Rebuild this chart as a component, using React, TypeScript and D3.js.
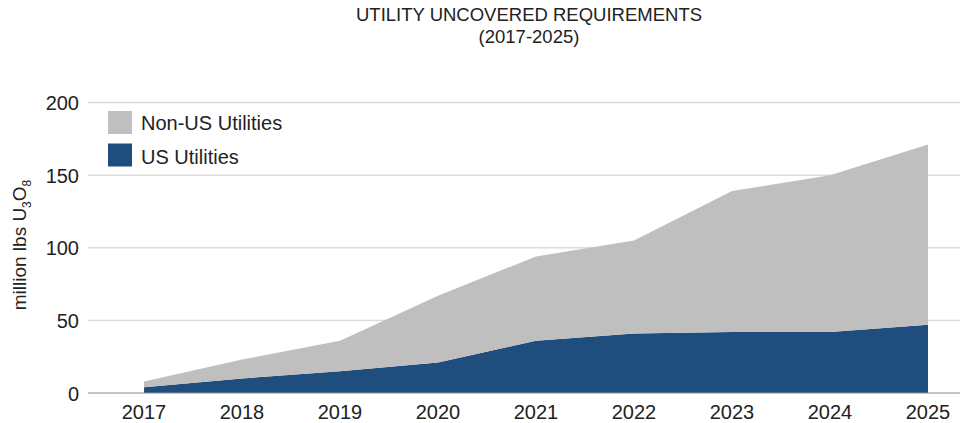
import React from "react";
import * as d3 from "d3";

const years = ["2017", "2018", "2019", "2020", "2021", "2022", "2023", "2024", "2025"];
const usUtilities = [4, 10, 15, 21, 36, 41, 42, 42, 47];
const nonUsUtilities = [4, 13, 21, 46, 58, 64, 97, 108, 124];
const yTicks = [0, 50, 100, 150, 200];

const W = 961, H = 423;
const left = 88, right = 960, top = 102.5, bottom = 393;

export default function App() {
  const x = d3.scalePoint<string>().domain(years).range([144, 928]);
  const y = d3.scaleLinear().domain([0, 200]).range([bottom, top]);
  const rows = years.map((yr, i) => ({ yr, us: usUtilities[i], non: nonUsUtilities[i] }));
  const stack = d3.stack<any>().keys(["us", "non"])(rows);
  const area = d3
    .area<any>()
    .x((d) => x(d.data.yr)!)
    .y0((d) => y(d[0]))
    .y1((d) => y(d[1]));
  const colors = ["#1f4e7e", "#bfbfbf"];
  const font = "'Liberation Sans', Arial, Helvetica, sans-serif";
  return (
    <svg width={W} height={H} style={{ position: "absolute", left: 0, top: 0, background: "#fff" }} fontFamily={font}>
      <text x={529} y={21} textAnchor="middle" fontSize={18.5} fill="#222">UTILITY UNCOVERED REQUIREMENTS</text>
      <text x={529} y={43} textAnchor="middle" fontSize={18.5} fill="#222">(2017-2025)</text>
      {yTicks.filter((t) => t > 0).map((t) => (
        <line key={t} x1={left} x2={right} y1={y(t)} y2={y(t)} stroke="#dcdcdc" strokeWidth={1.5} />
      ))}
      {stack.map((s, i) => (
        <path key={s.key} d={area(s)!} fill={colors[i]} />
      ))}
      <line x1={left} x2={right} y1={y(0)} y2={y(0)} stroke="#8a8a8a" strokeWidth={1.2} />
      {yTicks.map((t) => (
        <text key={t} x={79} y={y(t) + 7.5} textAnchor="end" fontSize={20} fill="#222">{t}</text>
      ))}
      {years.map((yr) => (
        <text key={yr} x={x(yr)} y={419} textAnchor="middle" fontSize={20} fill="#222">{yr}</text>
      ))}
      <text transform={`translate(26,245) rotate(-90)`} textAnchor="middle" fontSize={19} fill="#222">
        million lbs U<tspan dy={5} fontSize={12}>3</tspan><tspan dy={-5}>O</tspan><tspan dy={5} fontSize={12}>8</tspan>
      </text>
      <rect x={108} y={111} width={24} height={23} fill="#bfbfbf" />
      <text x={141} y={129.5} fontSize={20} fill="#222">Non-US Utilities</text>
      <rect x={108} y={143.5} width={24} height={23} fill="#1f4e7e" />
      <text x={141} y={164} fontSize={20} fill="#222">US Utilities</text>
    </svg>
  );
}
